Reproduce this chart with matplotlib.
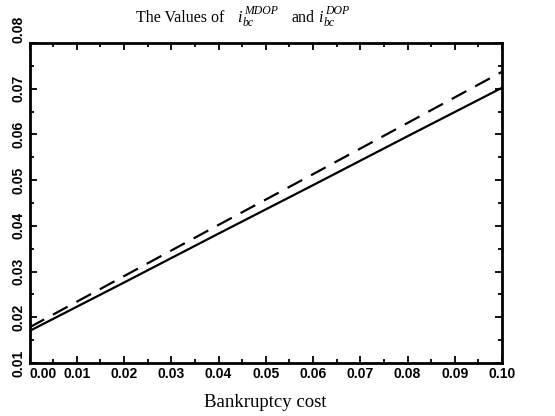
import matplotlib
matplotlib.use("Agg")
import matplotlib.pyplot as plt
from matplotlib.ticker import MultipleLocator
import numpy as np

# Data
bankruptcy_cost = [0.00, 0.02, 0.04, 0.06, 0.08, 0.10]
i_mdop = [0.0170, 0.0276, 0.0383, 0.0489, 0.0596, 0.0702]   # solid
i_dop = [0.0178, 0.0290, 0.0402, 0.0513, 0.0625, 0.0737]    # dashed

x_ticks = [0.00, 0.01, 0.02, 0.03, 0.04, 0.05, 0.06, 0.07, 0.08, 0.09, 0.10]
y_ticks = [0.01, 0.02, 0.03, 0.04, 0.05, 0.06, 0.07, 0.08]

W, H = 555, 416
fig = plt.figure(figsize=(W/100, H/100), dpi=100)
ax = fig.add_axes([29.5/W, 1-363/H, (502-29.5)/W, (363-43)/H])

ax.plot(bankruptcy_cost, i_mdop, color='black', lw=1.6, ls='-')
ax.plot(bankruptcy_cost, i_dop, color='black', lw=1.6, ls=(0, (7.5, 4.5)))

ax.set_xlim(0.0, 0.1)
ax.set_ylim(0.01, 0.08)
ax.set_xticks(x_ticks)
ax.set_yticks(y_ticks)
ax.set_xticklabels([f"{v:.2f}" for v in x_ticks])
ax.set_yticklabels([f"{v:.2f}" for v in y_ticks], rotation=90, va='center')
ax.xaxis.set_minor_locator(MultipleLocator(0.005))
ax.yaxis.set_minor_locator(MultipleLocator(0.005))

ax.tick_params(which='both', direction='in', top=True, right=True, width=1.3)
ax.tick_params(which='major', length=5, pad=3)
ax.tick_params(which='minor', length=3)
for lbl in ax.get_xticklabels() + ax.get_yticklabels():
    lbl.set_fontfamily('Liberation Sans')
    lbl.set_fontweight('bold')
    lbl.set_fontsize(10)
ax.get_xticklabels()[0].set_horizontalalignment('left')
ax.get_yticklabels()[-1].set_verticalalignment('bottom')
for sp in ax.spines.values():
    sp.set_linewidth(2.0)

# Title composed of pieces (larger scripts, as in the reference)
def ftxt(x, y, s, size, style='normal'):
    fig.text(x/W, 1-y/H, s, ha='left', va='baseline', fontsize=size,
             family='Liberation Serif', style=style)

base = 22.5
ftxt(136, base, "The Values of", 11.5)
ftxt(237, base, "i", 11.5, 'italic')
ftxt(243, base+4, "bc", 8.5, 'italic')
ftxt(244, base-8, "MDOP", 8.5, 'italic')
ftxt(291, base, "and", 11.5)
ftxt(318, base, "i", 11.5, 'italic')
ftxt(324, base+4, "bc", 8.5, 'italic')
ftxt(325, base-8, "DOP", 8.5, 'italic')

ax.set_xlabel("Bankruptcy cost", family='Liberation Serif', fontsize=13.5, labelpad=9)

fig.savefig("out.png", dpi=100)
